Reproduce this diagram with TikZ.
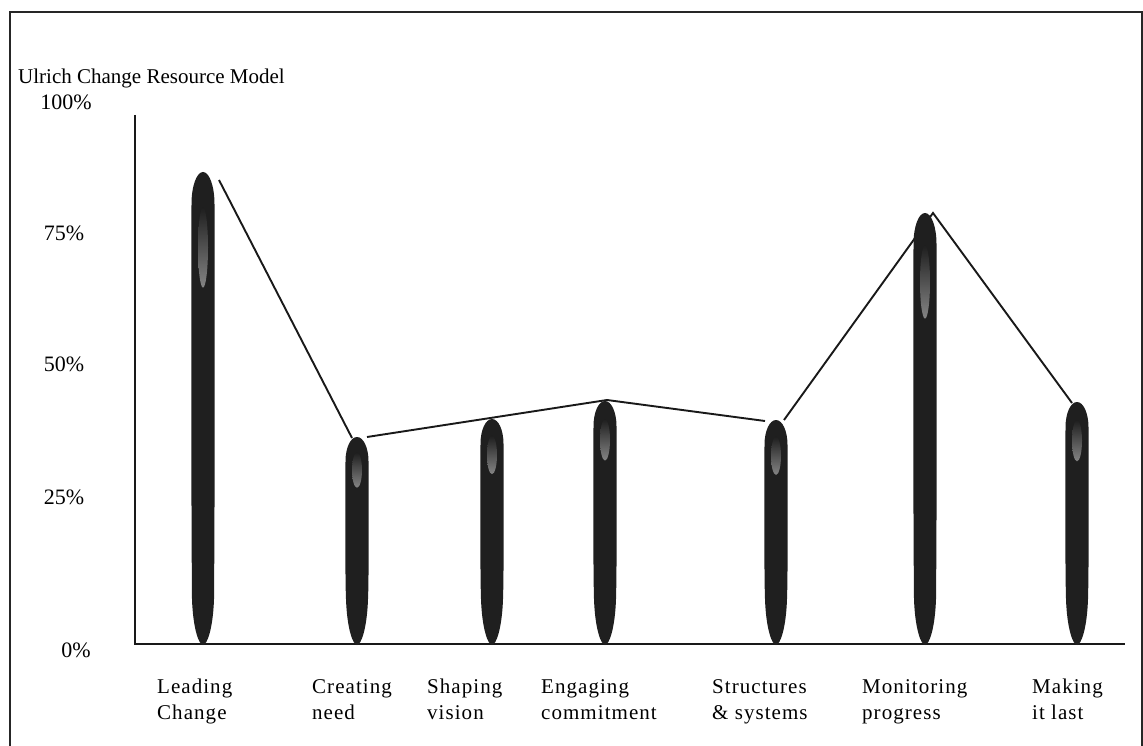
\documentclass[tikz,border=0pt]{standalone}
\usepackage{fontspec}
\setmainfont{Liberation Serif}
\newfontfamily\catfamily[LetterSpace=5]{Liberation Serif}
\newcommand{\titlefont}{\fontsize{21}{25}\selectfont}
\newcommand{\tickfont}{\fontsize{22}{26}\selectfont}
\newcommand{\catfont}{\catfamily\fontsize{21}{26}\selectfont}

% Baseline of the chart (pixel-like units, y grows downwards)
\newcommand{\baseY}{644}

% A bullet-shaped bar: #1 name, #2 centre x, #3 top y
\newcommand{\bulletbar}[3]{%
  \pgfmathsetmacro{\bh}{\baseY-#3}%
  \pgfmathsetmacro{\bcap}{18+0.03*\bh}%
  \fill[barbody]
    (#2,#3) .. controls (#2+6.5,#3) and (#2+11.5,#3+0.45*\bcap) .. (#2+11.5,#3+\bcap)
    .. controls (#2+11.8,#3+0.4*\bh) and (#2+11.8,\baseY-0.3*\bh) .. (#2+11,\baseY-45)
    .. controls (#2+10,\baseY-15) and (#2+4,\baseY+1) .. (#2,\baseY+1)
    .. controls (#2-4,\baseY+1) and (#2-10,\baseY-15) .. (#2-11,\baseY-45)
    .. controls (#2-11.8,\baseY-0.3*\bh) and (#2-11.8,#3+0.4*\bh) .. (#2-11.5,#3+\bcap)
    .. controls (#2-11.5,#3+0.45*\bcap) and (#2-6.5,#3) .. (#2,#3) -- cycle;
  \shade[top color=black!88, bottom color=black!48]
    (#2,#3+0.16*\bh) ellipse [x radius=5, y radius=0.085*\bh];
  \coordinate (#1) at (#2,#3);
}

\tikzset{
  frame/.style={line width=1.6pt, draw=black!85},
  axisline/.style={line width=1.7pt, draw=black!90},
  trend/.style={line width=1.9pt, draw=black!90, line join=miter},
  barbody/.style={fill=black!88},
  ticklab/.style={font=\tickfont, inner sep=0},
  catlab/.style={font=\catfont, align=left, anchor=north west, inner sep=0},
}

\begin{document}
\begin{tikzpicture}[x=1pt, y=-1pt]
  \useasboundingbox (0,0) rectangle (1143,746);
  \fill[white] (0,0) rectangle (1143,746);

  % outer frame
  \draw[frame] (10,760) -- (10,12) -- (1142,12) -- (1142,760);

  % title
  \node[font=\titlefont, anchor=west, inner sep=0] (title) at (18,78) {Ulrich Change Resource Model};

  % axes
  \coordinate (ytop) at (135,115);
  \coordinate (origin) at (135,\baseY);
  \coordinate (xend) at (1125,\baseY);
  \draw[axisline] (ytop) -- (origin) -- (xend);

  % percentage labels
  \node[ticklab] (t100) at (66,102) {100\%};
  \node[ticklab] (t75)  at (64,233) {75\%};
  \node[ticklab] (t50)  at (64,364) {50\%};
  \node[ticklab] (t25)  at (64,497) {25\%};
  \node[ticklab] (t0)   at (76,650) {0\%};

  % trend line through the bar tops
  \coordinate (a1) at (219,180);
  \coordinate (a2) at (352,438);
  \coordinate (b1) at (367,437);
  \coordinate (b2) at (607,400);
  \coordinate (b3) at (765,421);
  \coordinate (c1) at (784,420);
  \coordinate (c2) at (933,213);
  \coordinate (c3) at (1072,403);
  \draw[trend] (a1) -- (a2);
  \draw[trend] (b1) -- (b2) -- (b3);
  \draw[trend] (c1) -- (c2) -- (c3);

  % bars
  \bulletbar{lead}{203}{172}
  \bulletbar{need}{357}{437}
  \bulletbar{vision}{492}{419}
  \bulletbar{commit}{605}{401}
  \bulletbar{struct}{776}{420}
  \bulletbar{monitor}{925}{213}
  \bulletbar{last}{1077}{402}

  % category labels
  \node[catlab] (l1) at (157,679) {Leading\\Change};
  \node[catlab] (l2) at (312,679) {Creating\\need};
  \node[catlab] (l3) at (427,679) {Shaping\\vision};
  \node[catlab] (l4) at (541,679) {Engaging\\commitment};
  \node[catlab] (l5) at (712,679) {Structures\\\& systems};
  \node[catlab] (l6) at (862,679) {Monitoring\\progress};
  \node[catlab] (l7) at (1032,679) {Making\\it last};
\end{tikzpicture}
\end{document}
